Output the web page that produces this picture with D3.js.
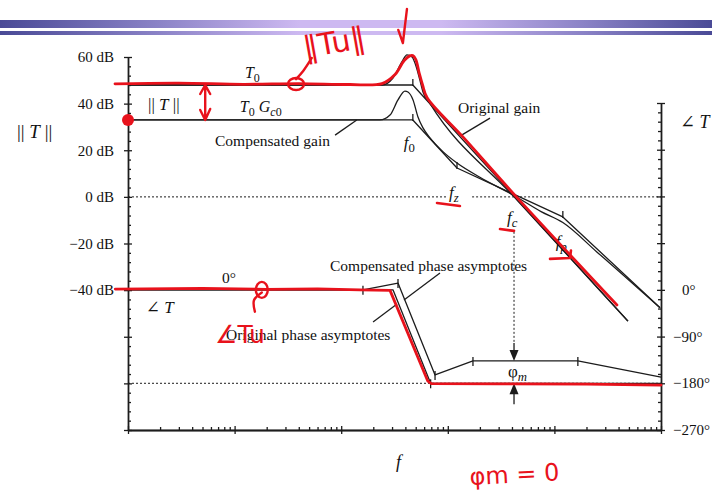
<!DOCTYPE html>
<html>
<head>
<meta charset="utf-8">
<script src="https://cdn.jsdelivr.net/npm/d3@7"></script>
<style>
  body { margin: 0; background: #fff; }
  svg { display: block; font-family: "Liberation Serif", "DejaVu Serif", serif; }
</style>
</head>
<body>
<div id="mount"></div>
<script>
'use strict';

// axis ticks
const freqDecades = [1, 10, 100, 1e3, 1e4, 1e5];
const dbTicks = [60, 40, 20, 0, -20, -40, -60, -80, -100];
const dbTickLabels = ['60 dB', '40 dB', '20 dB', '0 dB', '−20 dB', '−40 dB', '', '', ''];
const phaseTicks = [360, 270, 180, 90, 0, -90, -180, -270];
const phaseTickLabels = ['', '', '', '', '0°', '−90°', '−180°', '−270°'];

// corner frequencies
const f0 = 470, fz = 1220, fc = 4180, fp = 12000;

// gain curves, [f, dB]
const origGainAsym = [[1, 48], [f0, 48], [49000, -53.3]];
const origGain = [[1, 48], [241, 48], [306, 51], [372, 58], [414, 60.9], [462, 60], [492, 57.4],
                  [548, 50], [585, 45], [681, 40], [fc, 0], [49000, -53.3]];
const compGainAsym = [[1, 33], [f0, 33], [fz, 12.4], [fp, -8.6], [98000, -47.6]];
const compGain = [[1, 33], [231, 33], [287, 35.1], [341, 41.6], [396, 45.4], [423, 45], [472, 41.6],
                  [525, 34.3], [585, 29.6], [681, 25.3], [900, 19.4], [fz, 14.5], [2000, 8.4],
                  [fc, 0.6], [7500, -6.3], [fp, -11], [25000, -23.6], [98000, -47.6]];
const gainCornerTicks = [[f0, 48], [f0, 33], [fz, 12.4], [fp, -8.6]];

// phase asymptotes, [f, degrees]
const origPhaseAsym = [[1, 0], [306, 0], [690, -180], [1e5, -180]];
const compPhaseAsym = [[1, 0], [160, 0], [341, 13], [759, -164], [1722, -137], [16600, -137], [1e5, -168]];
const phaseCornerTicks = [[160, 0], [341, 13], [759, -164], [1722, -137], [16600, -137], [690, -180]];
const phaseMargin = [-137, -180];

// hand drawn red marks on the slide
const redGain = [[0.755, 48.5], [3, 48.8], [12, 48.3], [40, 48.6], [120, 48.2], [241, 48.6], [320, 52.5],
                 [390, 58.5], [440, 60.5], [470, 60.6], [500, 59], [540, 53], [580, 48], [640, 42.5],
                 [1400, 25.5], [4400, 0], [38600, -46.4]];
const redPhase = [[0.76, 1.5], [5, 3], [20, 1], [60, 2], [150, 0], [287, -1], [650, -176], [700, -180.5],
                  [3000, -181], [20000, -181.5], [1e5, -183.5]];
const redCheck = [[343, 71.6], [379, 66], [414, 80.6]];
const redLoopTail = [[37.7, 50.5], [44, 54], [53, 59.6]];
const redUnderlines = [
  [[792, -2.6], [1300, -3.9]],
  [[3090, -13.8], [4180, -14.6]],
  [[9100, -26.6], [14000, -26.2], [14300, -23]]
];
const redPhaseTail = [[18, -5], [15.2, -20], [15.5, -42]];

const width = 712, height = 493;
const svg = d3.select('#mount').append('svg')
    .attr('width', width)
    .attr('height', height);

const x = d3.scaleLog().domain([1, 1e5]).range([128, 661]);
const yDb = d3.scaleLinear().domain([-100, 60]).range([430, 57]);
const yPh = d3.scaleLinear().domain([-270, 360]).range([430, 103]);

const ink = '#1c1c1c', red = '#e8121c';

// slide header bands
const grad = svg.append('defs').append('linearGradient').attr('id', 'band');
[[0, '#4a4a96'], [0.22, '#8a82c6'], [0.42, '#cdb9f1'], [0.62, '#cdb9f1'], [0.82, '#8a82c6'], [1, '#4a4a96']]
  .forEach(s => grad.append('stop').attr('offset', s[0]).attr('stop-color', s[1]));
svg.append('rect').attr('x', 0).attr('y', 20).attr('width', width).attr('height', 8).attr('fill', 'url(#band)');
svg.append('rect').attr('x', 0).attr('y', 31).attr('width', width).attr('height', 4).attr('fill', 'url(#band)');

// axes
function styleAxis(g) {
  g.selectAll('path, line').attr('stroke', ink).attr('stroke-width', 1.3);
  g.selectAll('text').attr('fill', '#111').style('font-size', '15px').style('font-family', '"Liberation Serif", serif');
}
const left = svg.append('g').attr('transform', 'translate(128,0)');
left.append('g').call(d3.axisLeft(yDb).tickValues(dbTicks).tickSize(4).tickSizeOuter(0).tickPadding(10)
    .tickFormat((d, i) => dbTickLabels[i])).call(styleAxis);
left.append('g').call(d3.axisRight(yDb).tickValues(dbTicks).tickSize(4).tickSizeOuter(0).tickFormat('')).call(styleAxis);
left.append('g').call(d3.axisRight(yDb).tickValues(d3.range(-96, 60, 4).filter(d => d % 20 !== 0))
    .tickSize(3).tickSizeOuter(0).tickFormat('')).call(styleAxis);

const right = svg.append('g').attr('transform', 'translate(661,0)');
right.append('g').call(d3.axisRight(yPh).tickValues(phaseTicks).tickSize(4).tickSizeOuter(0).tickFormat(''))
    .call(styleAxis);
right.append('g').call(d3.axisLeft(yPh).tickValues(phaseTicks).tickSize(4).tickSizeOuter(0).tickFormat('')).call(styleAxis);
right.append('g').call(d3.axisLeft(yPh).tickValues(d3.range(-252, 360, 18).filter(d => d % 90 !== 0))
    .tickSize(3).tickSizeOuter(0).tickFormat('')).call(styleAxis);
right.append('g').selectAll('text').data(phaseTicks.map((d, i) => [d, phaseTickLabels[i]]).filter(d => d[1]))
  .join('text')
    .attr('x', d => d[1].startsWith('−') ? 12 : 21)
    .attr('y', d => yPh(d[0]) + 5)
    .attr('fill', '#111').style('font-size', '15px')
    .text(d => d[1]);

const bottom = svg.append('g').attr('transform', 'translate(0,430)');
bottom.append('g').call(d3.axisBottom(x).tickValues(freqDecades).tickSize(4).tickSizeOuter(0).tickFormat('')).call(styleAxis);
bottom.append('g').call(d3.axisTop(x).tickValues(freqDecades).tickSize(4).tickSizeOuter(0).tickFormat('')).call(styleAxis);
bottom.append('g').call(d3.axisTop(x).tickValues(x.ticks().filter(d => !freqDecades.includes(d)))
    .tickSize(3).tickSizeOuter(0).tickFormat('')).call(styleAxis);

// reference lines: 0 dB and -180 degrees
const dotted = (g) => g.attr('fill', 'none').attr('stroke', ink).attr('stroke-width', 1).attr('stroke-dasharray', '2,2');
svg.append('line').attr('x1', x(1)).attr('x2', x(1000)).attr('y1', yDb(0)).attr('y2', yDb(0)).call(dotted);
svg.append('line').attr('x1', x(1690)).attr('x2', x(1e5)).attr('y1', yDb(0)).attr('y2', yDb(0)).call(dotted);
svg.append('line').attr('x1', x(1)).attr('x2', x(1e5)).attr('y1', yPh(-180)).attr('y2', yPh(-180)).call(dotted);
svg.append('line').attr('x1', x(fc)).attr('x2', x(fc)).attr('y1', yDb(-15)).attr('y2', yPh(phaseMargin[0]) - 18).call(dotted);

// curves
const lineDb = d3.line().x(d => x(d[0])).y(d => yDb(d[1]));
const smoothDb = d3.line().x(d => x(d[0])).y(d => yDb(d[1])).curve(d3.curveMonotoneX);
const linePh = d3.line().x(d => x(d[0])).y(d => yPh(d[1]));
const stroke = (p) => p.attr('fill', 'none').attr('stroke', ink).attr('stroke-width', 1.3).attr('stroke-linejoin', 'round');

svg.append('path').attr('d', lineDb(origGainAsym)).call(stroke);
svg.append('path').attr('d', smoothDb(origGain)).call(stroke);
svg.append('path').attr('d', lineDb(compGainAsym)).call(stroke);
svg.append('path').attr('d', smoothDb(compGain)).call(stroke);
svg.append('path').attr('d', linePh(origPhaseAsym)).call(stroke);
svg.append('path').attr('d', linePh(compPhaseAsym)).call(stroke);

svg.append('g').selectAll('line').data(gainCornerTicks).join('line')
    .attr('x1', d => x(d[0])).attr('x2', d => x(d[0]))
    .attr('y1', d => yDb(d[1]) - 6).attr('y2', d => yDb(d[1]) + 1).call(stroke);
svg.append('g').selectAll('line').data(phaseCornerTicks).join('line')
    .attr('x1', d => x(d[0])).attr('x2', d => x(d[0]))
    .attr('y1', d => yPh(d[1]) - 4).attr('y2', d => yPh(d[1]) + 5).call(stroke);

// phase margin arrows
const ax = x(fc), topTip = yPh(phaseMargin[0]), botTip = yPh(phaseMargin[1]);
svg.append('line').attr('x1', ax).attr('x2', ax).attr('y1', topTip - 18).attr('y2', topTip - 9).call(stroke);
svg.append('path').attr('d', `M${ax - 4.5},${topTip - 11}L${ax + 4.5},${topTip - 11}L${ax},${topTip}Z`).attr('fill', ink);
svg.append('line').attr('x1', ax).attr('x2', ax).attr('y1', botTip + 9).attr('y2', botTip + 21).call(stroke);
svg.append('path').attr('d', `M${ax - 4.5},${botTip + 11}L${ax + 4.5},${botTip + 11}L${ax},${botTip}Z`).attr('fill', ink);

// leader lines for the labels
const leaders = [
  [yDb, [[87.6, 26.5], [140, 33]]],
  [yDb, [[2488, 33.8], [1359, 26.6]]],
  [yPh, [[845, 32.6], [388, -19.5]]],
  [yPh, [[199, -61.9], [334, -27.2]]]
];
leaders.forEach(([ys, pts]) => svg.append('path')
    .attr('d', d3.line().x(d => x(d[0])).y(d => ys(d[1]))(pts)).call(stroke));

// text labels; sub: drop to subscript, small: keep level but small, up: return to baseline
function label(px, py, parts, size) {
  size = size || 15.5;
  const t = svg.append('text').attr('x', px).attr('y', py).attr('fill', '#111').style('font-size', size + 'px');
  parts.forEach(p => {
    const s = t.append('tspan').text(p.t);
    if (p.i) s.style('font-style', 'italic');
    if (p.sub) s.attr('dy', 4);
    if (p.sub || p.small) s.style('font-size', (size * 0.75) + 'px');
    if (p.up) s.attr('dy', -4);
  });
  return t;
}
label(x(12.5), yDb(51), [{ t: 'T', i: 1 }, { t: '0', sub: 1 }], 16);
label(x(1.54), yDb(37.3), [{ t: '|| ' }, { t: 'T', i: 1 }, { t: ' ||' }], 17);
label(x(11.2), yDb(36.4), [{ t: 'T', i: 1 }, { t: '0', sub: 1 }, { t: ' G', i: 1, up: 1 }, { t: 'c', i: 1, sub: 1 }, { t: '0', small: 1 }], 16);
label(x(6.55), yDb(21.8), [{ t: 'Compensated gain' }]);
label(x(1247), yDb(36), [{ t: 'Original gain' }]);
label(x(f0) - 9, yDb(21), [{ t: 'f', i: 1 }, { t: '0', sub: 1 }], 17);
label(x(fz) - 8, yDb(-0.5), [{ t: 'f', i: 1 }, { t: 'z', i: 1, sub: 1 }], 17);
label(x(fc) - 7, yDb(-11.3), [{ t: 'f', i: 1 }, { t: 'c', i: 1, sub: 1 }], 17);
label(x(fp) - 7, yDb(-21.3), [{ t: 'f', i: 1 }, { t: 'p', i: 1, sub: 1 }], 17);

label(x(7.6), yPh(13), [{ t: '0°' }]);
label(x(1.47), yPh(-45), [{ t: '∠ ' }, { t: 'T', i: 1 }], 17);
label(x(78.5), yPh(36.5), [{ t: 'Compensated phase asymptotes' }]);
label(x(8.3), yPh(-96.3), [{ t: 'Original phase asymptotes' }]);
label(x(3670), yPh(-168), [{ t: 'φ' }, { t: 'm', i: 1, sub: 1 }], 17);

svg.append('text').attr('x', 17).attr('y', 138).attr('fill', '#111').style('font-size', '19px')
    .html('|| <tspan font-style="italic">T</tspan> ||');
svg.append('text').attr('x', 680).attr('y', 128).attr('fill', '#111').style('font-size', '18px')
    .html('∠ <tspan font-style="italic">T</tspan>');
svg.append('text').attr('x', 396).attr('y', 468).attr('fill', '#111').style('font-size', '18px')
    .style('font-style', 'italic').text('f');

// red hand annotations
const redStroke = (p, w) => p.attr('fill', 'none').attr('stroke', red).attr('stroke-width', w || 2.8)
    .attr('stroke-linecap', 'round').attr('stroke-linejoin', 'round');
const redDb = d3.line().x(d => x(d[0])).y(d => yDb(d[1])).curve(d3.curveCatmullRom);
const redPh = d3.line().x(d => x(d[0])).y(d => yPh(d[1])).curve(d3.curveCatmullRom);

svg.append('path').attr('d', redDb(redGain)).call(redStroke);
svg.append('path').attr('d', d3.line().x(d => x(d[0])).y(d => yPh(d[1]))(redPhase)).call(redStroke);
svg.append('path').attr('d', d3.line().x(d => x(d[0])).y(d => yDb(d[1]))(redCheck)).call(redStroke, 2.4);
svg.append('ellipse').attr('cx', x(37.7)).attr('cy', yDb(48.4)).attr('rx', 8).attr('ry', 6).call(redStroke, 2.4);
svg.append('path').attr('d', redDb(redLoopTail)).call(redStroke, 2.4);
redUnderlines.forEach(u => svg.append('path').attr('d', d3.line().x(d => x(d[0])).y(d => yDb(d[1]))(u)).call(redStroke, 2.6));

// double arrow between T0 and T0 Gc0
const arX = x(5.3), arTop = yDb(48), arBot = yDb(33);
svg.append('path').attr('d', `M${arX},${arTop}L${arX},${arBot}M${arX - 5},${arTop + 9}L${arX},${arTop}L${arX + 5},${arTop + 9}` +
    `M${arX - 5},${arBot - 10}L${arX},${arBot}L${arX + 5},${arBot - 11}`).call(redStroke, 2.4);
svg.append('circle').attr('cx', x(1)).attr('cy', yDb(33)).attr('r', 6).attr('fill', red);

svg.append('ellipse').attr('cx', x(18)).attr('cy', yPh(0)).attr('rx', 6).attr('ry', 8).call(redStroke, 2.4);
svg.append('path').attr('d', redPh(redPhaseTail)).call(redStroke, 2.4);

const hand = (px, py, txt, size, rot) => svg.append('text')
    .attr('transform', `translate(${px},${py}) rotate(${rot})`)
    .attr('fill', red).style('font-family', '"DejaVu Sans", sans-serif').style('font-size', size + 'px')
    .text(txt);
hand(x(45.7), yDb(59.5), '‖Tu‖', 30, -10);
hand(x(6.55), yPh(-103), '∠Tu', 25, 0);
hand(x(1616), yPh(-376), 'φm = 0', 24, -3);
</script>
</body>
</html>
